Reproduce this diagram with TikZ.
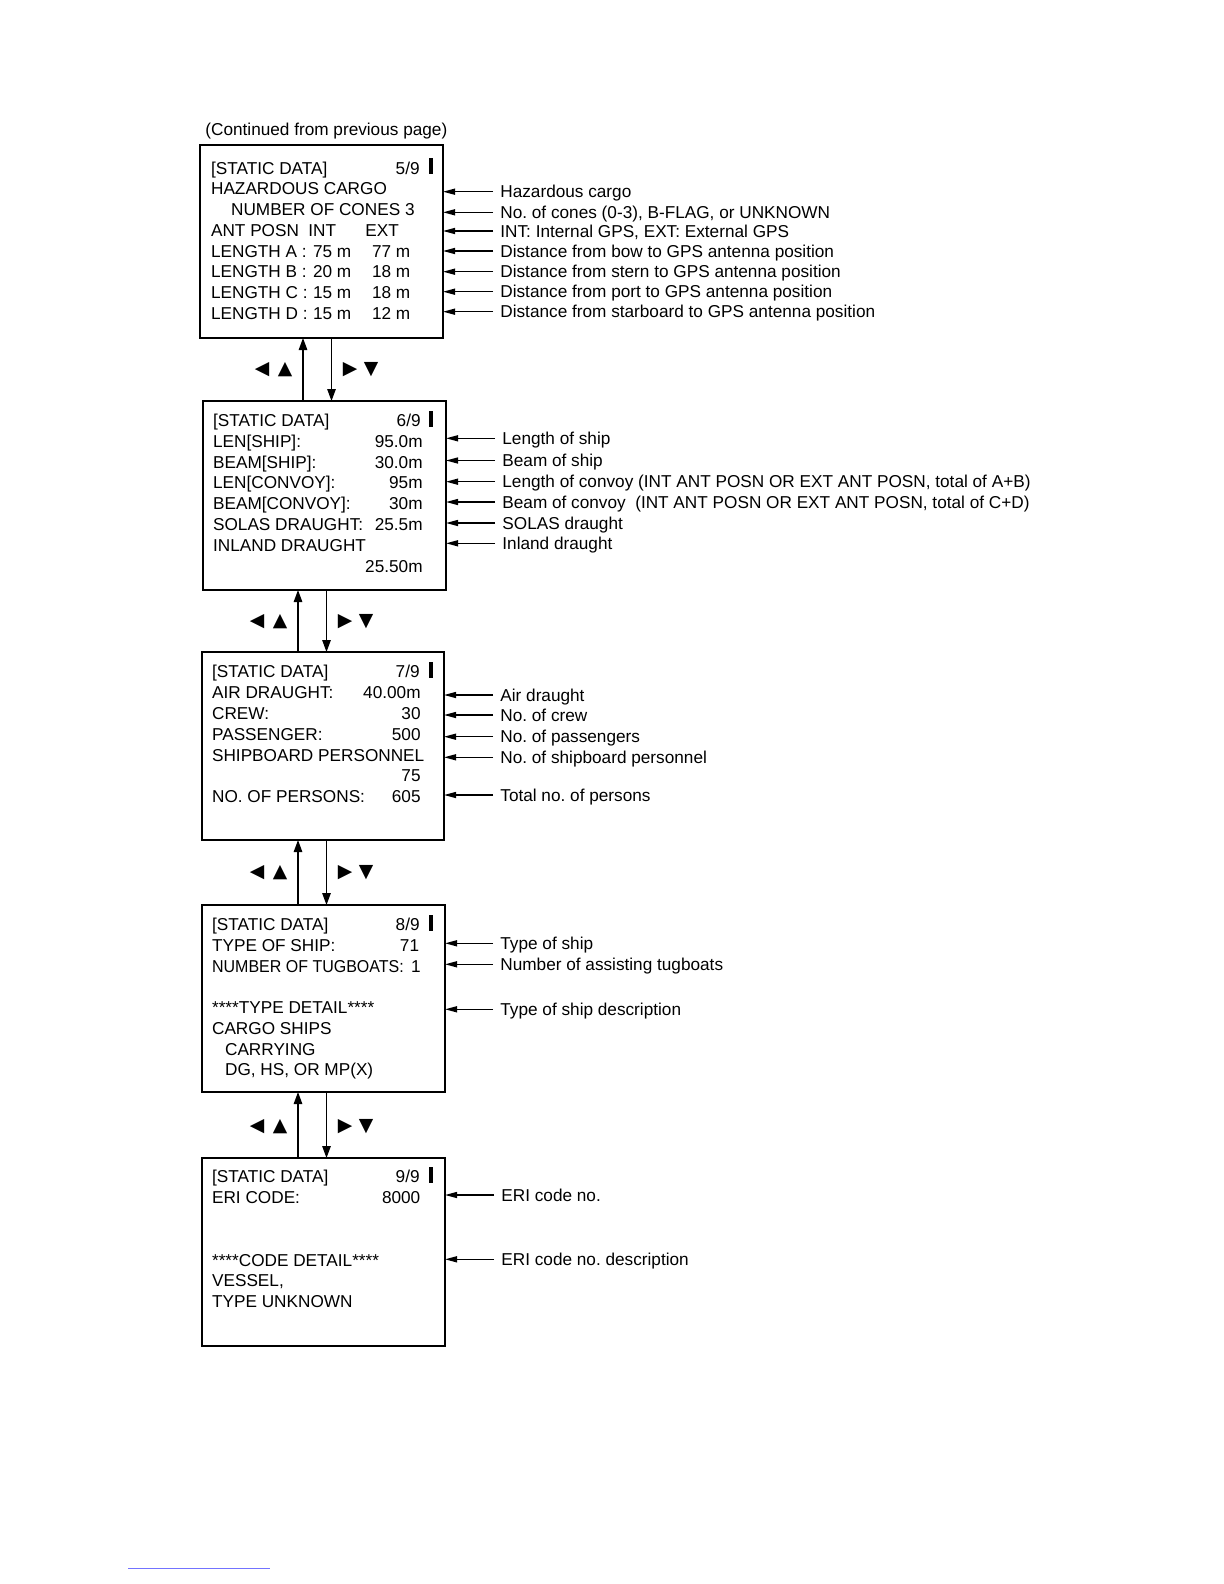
\documentclass[tikz,border=0pt]{standalone}
\usepackage{fontspec}
\setmainfont{Liberation Sans}
\newfontfamily\symfont{DejaVu Sans}
\usetikzlibrary{arrows.meta}
\newcommand{\lcdsize}{\fontsize{8.6pt}{10.4pt}\selectfont}
\frenchspacing

\begin{document}
\begin{tikzpicture}[
    x=0.5pt, y=-0.5pt,
    screen/.style={draw, rectangle, line width=1pt, outer sep=0pt, inner sep=0pt, anchor=north west},
    lcd/.style={anchor=west, inner sep=0pt, font=\lcdsize, text height=6.2pt, text depth=0pt},
    lcdr/.style={lcd, anchor=east},
    notetext/.style={lcd, inner xsep=3.5pt},
    pointer/.style={-{Triangle[length=6pt, width=3pt]}, line width=0.7pt},
    nav/.style={-{Triangle[length=6pt, width=4.2pt]}, line width=0.8pt},
    navsym/.style={font=\symfont\fontsize{9.4pt}{10pt}\selectfont, inner sep=0pt},
    cursor/.style={fill, inner sep=0pt, minimum width=1.8pt, minimum height=8pt}
]
    \useasboundingbox (0,0) rectangle (1224,1584);

    % Heading
    \node[lcd] (cont) at (205,128.8) {(Continued from previous page)};

    % Screens
    \node[screen, minimum width=121.5pt, minimum height=96.5pt] (p5) at (200,145) {};
    \node[screen, minimum width=121.5pt, minimum height=94.5pt] (p6) at (203,401) {};
    \node[screen, minimum width=121pt, minimum height=94pt] (p7) at (202,652) {};
    \node[screen, minimum width=121.5pt, minimum height=93.5pt] (p8) at (202,905) {};
    \node[screen, minimum width=121.5pt, minimum height=94pt] (p9) at (202,1158) {};

    % Page 5/9
    \foreach \txt [count=\i from 0] in {{[STATIC DATA]}, HAZARDOUS CARGO, \hspace{10pt}NUMBER OF CONES 3, ANT POSN, LENGTH A :, LENGTH B :, LENGTH C :, LENGTH D :}
        \node[lcd] (p5-\i) at (210.7, 167.8+20.75*\i) {\txt};
    \node[lcdr] (p5-pg) at (420,167.8) {5/9};
    \node[cursor] (p5-cur) at (431,166) {};
    \node[lcd] (p5-int) at (308,230) {INT};
    \node[lcd] (p5-ext) at (365,230) {EXT};
    \foreach \a/\b [count=\i from 4] in {75 m/77 m, 20 m/18 m, 15 m/18 m, 15 m/12 m} {
        \node[lcd] (p5-i\i) at (312.7, 167.8+20.75*\i) {\a};
        \node[lcd] (p5-e\i) at (371.7, 167.8+20.75*\i) {\b};
    }
    \foreach \y/\txt [count=\i] in {191.7/Hazardous cargo, 212.3/{No. of cones (0-3), B-FLAG, or UNKNOWN}, 231/{INT: Internal GPS, EXT: External GPS}, 251/Distance from bow to GPS antenna position, 271.7/Distance from stern to GPS antenna position, 291.7/Distance from port to GPS antenna position, 311.7/Distance from starboard to GPS antenna position} {
        \node[notetext] (p5-n\i) at (493,\y) {\txt};
        \draw[pointer] (p5-n\i.west) -- (p5-n\i.west -| p5.east);
    }

    % Page 6/9
    \foreach \txt [count=\i from 0] in {{[STATIC DATA]}, LEN[SHIP]:, BEAM[SHIP]:, LEN[CONVOY]:, BEAM[CONVOY]:, SOLAS DRAUGHT:, INLAND DRAUGHT}
        \node[lcd] (p6-\i) at (212.7, 420+20.9*\i) {\txt};
    \foreach \i/\v in {1/95.0m, 2/30.0m, 3/95m, 4/30m, 5/25.5m, 7/25.50m}
        \node[lcdr] (p6-v\i) at (423, 420+20.9*\i) {\v};
    \node[lcdr] (p6-pg) at (421,420) {6/9};
    \node[cursor] (p6-cur) at (431,419) {};
    \foreach \y/\txt [count=\i] in {438.3/Length of ship, 460.5/Beam of ship, 481.7/{Length of convoy (INT ANT POSN OR EXT ANT POSN, total of A+B)}, 502/{Beam of convoy\ \ (INT ANT POSN OR EXT ANT POSN, total of C+D)}, 523/SOLAS draught, 543.3/Inland draught} {
        \node[notetext] (p6-n\i) at (495,\y) {\txt};
        \draw[pointer] (p6-n\i.west) -- (p6-n\i.west -| p6.east);
    }

    % Page 7/9
    \foreach \i/\txt in {0/{[STATIC DATA]}, 1/AIR DRAUGHT:, 2/CREW:, 3/PASSENGER:, 4/SHIPBOARD PERSONNEL, 6/NO. OF PERSONS:}
        \node[lcd] (p7-\i) at (211.7, 671.2+20.9*\i) {\txt};
    \foreach \i/\v in {1/40.00m, 2/30, 3/500, 5/75, 6/605}
        \node[lcdr] (p7-v\i) at (421, 671.2+20.9*\i) {\v};
    \node[lcdr] (p7-pg) at (420,671.2) {7/9};
    \node[cursor] (p7-cur) at (431,670) {};
    \foreach \y/\txt [count=\i] in {695/Air draught, 715/No. of crew, 736.7/No. of passengers, 757.3/No. of shipboard personnel, 795/Total no. of persons} {
        \node[notetext] (p7-n\i) at (493,\y) {\txt};
        \draw[pointer] (p7-n\i.west) -- (p7-n\i.west -| p7.east);
    }

    % Page 8/9
    \foreach \i/\txt in {0/{[STATIC DATA]}, 1/TYPE OF SHIP:, 2/\scalebox{0.93}[1]{NUMBER OF TUGBOATS:}, 4/****TYPE DETAIL****, 5/CARGO SHIPS, 6/\hspace{6.5pt}CARRYING, 7/{\hspace{6.5pt}DG, HS, OR MP(X)}}
        \node[lcd] (p8-\i) at (211.7, 924.5+20.75*\i) {\txt};
    \node[lcdr] (p8-v1) at (419.5,945.25) {71};
    \node[lcdr] (p8-v2) at (421,966) {1};
    \node[lcdr] (p8-pg) at (420,924.5) {8/9};
    \node[cursor] (p8-cur) at (431,923) {};
    \foreach \y/\txt [count=\i] in {943.3/Type of ship, 964.3/Number of assisting tugboats, 1009.3/Type of ship description} {
        \node[notetext] (p8-n\i) at (493,\y) {\txt};
        \draw[pointer] (p8-n\i.west) -- (p8-n\i.west -| p8.east);
    }

    % Page 9/9
    \foreach \i/\txt in {0/{[STATIC DATA]}, 1/ERI CODE:, 4/****CODE DETAIL****, 5/{VESSEL,}, 6/TYPE UNKNOWN}
        \node[lcd] (p9-\i) at (211.7, 1176.7+20.8*\i) {\txt};
    \node[lcdr] (p9-v1) at (420.7,1197.5) {8000};
    \node[lcdr] (p9-pg) at (420,1176.7) {9/9};
    \node[cursor] (p9-cur) at (431,1175) {};
    \foreach \y/\txt [count=\i] in {1195/ERI code no., 1259.3/ERI code no. description} {
        \node[notetext] (p9-n\i) at (494,\y) {\txt};
        \draw[pointer] (p9-n\i.west) -- (p9-n\i.west -| p9.east);
    }

    % Key arrows between screens
    \foreach \a/\b/\x/\y in {p5/p6/303/370, p6/p7/298/621.7, p7/p8/298/872.7, p8/p9/298/1126.7} {
        \coordinate (\a-up) at (\x,\y);
        \coordinate (\a-dn) at (\x+28.5,\y);
        \draw[nav] (\b.north -| \a-up) -- (\a.south -| \a-up);
        \draw[nav] (\a.south -| \a-dn) -- (\b.north -| \a-dn);
        \node[navsym] (\a-kl) at (\x-41,\y) {◀};
        \node[navsym] (\a-ku) at (\x-18,\y) {▲};
        \node[navsym] (\a-kr) at (\x+47,\y) {▶};
        \node[navsym] (\a-kd) at (\x+68,\y) {▼};
    }

    % link underline
    \coordinate (lnk-a) at (128,1568);
    \coordinate (lnk-b) at (270,1568);
    \draw[blue!55, line width=0.4pt] (lnk-a) -- (lnk-b);

\end{tikzpicture}
\end{document}
